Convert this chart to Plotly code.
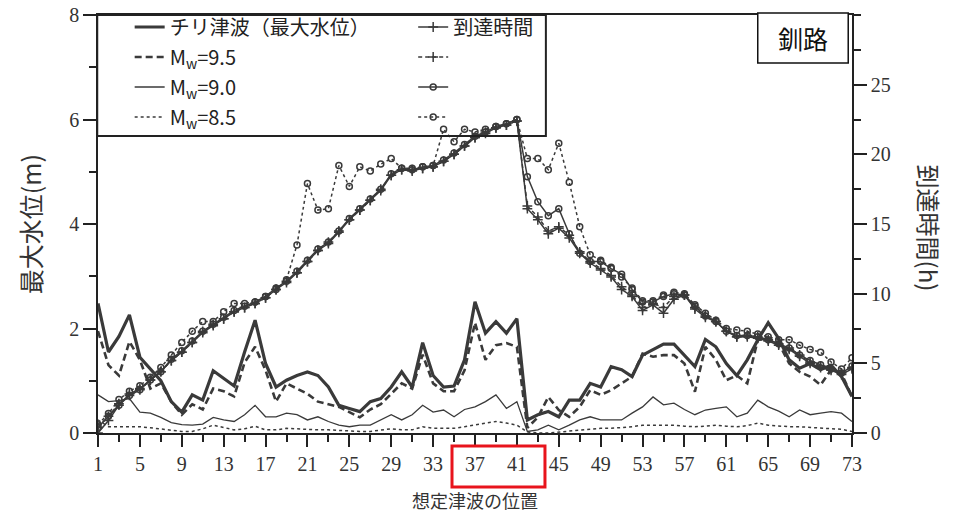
import plotly.graph_objects as go

positions = list(range(1, 74))

chile_h = [2.48,1.55,1.85,2.26,1.45,1.22,1.00,0.60,0.40,0.73,
           0.63,1.19,1.05,0.90,1.55,2.16,1.33,0.88,1.01,1.10,
           1.17,1.10,0.88,0.53,0.47,0.41,0.60,0.66,0.88,1.17,
           0.88,1.73,1.10,0.88,0.90,1.40,2.51,1.91,2.13,1.91,
           2.19,0.25,0.35,0.41,0.31,0.63,0.63,0.95,0.88,1.27,
           1.21,1.08,1.49,1.59,1.70,1.70,1.49,1.27,1.79,1.65,
           1.33,1.10,1.40,1.78,2.11,1.81,1.40,1.24,1.33,1.21,
           1.30,1.08,0.70]
m95_h = [1.95,1.30,1.10,1.75,1.40,0.85,0.95,0.60,0.35,0.55,
         0.45,0.85,0.80,0.70,1.35,1.65,1.20,0.60,0.95,0.85,
         0.75,0.60,0.55,0.50,0.40,0.30,0.45,0.55,0.75,0.95,
         0.85,1.50,0.95,0.80,0.80,1.20,2.11,1.40,1.68,1.72,
         1.65,0.10,0.30,0.69,0.44,0.31,0.50,0.82,0.73,0.82,
         0.95,1.08,1.52,1.46,1.49,1.49,1.33,0.79,1.65,1.40,
         1.01,1.10,0.95,1.78,1.81,1.72,1.33,1.17,1.08,0.92,
         1.21,1.14,0.69]
m90_h = [0.73,0.60,0.62,0.66,0.40,0.38,0.30,0.20,0.16,0.15,
         0.17,0.30,0.25,0.22,0.35,0.53,0.31,0.31,0.38,0.35,
         0.25,0.31,0.22,0.15,0.12,0.15,0.15,0.25,0.35,0.25,
         0.35,0.53,0.40,0.44,0.31,0.45,0.50,0.60,0.73,0.47,
         0.60,0.03,0.06,0.15,0.06,0.15,0.25,0.31,0.25,0.25,
         0.25,0.38,0.50,0.69,0.54,0.57,0.45,0.35,0.44,0.47,
         0.50,0.31,0.38,0.63,0.50,0.42,0.31,0.44,0.35,0.38,
         0.41,0.38,0.22]
m85_h = [0.25,0.12,0.12,0.12,0.12,0.10,0.08,0.05,0.03,0.03,
         0.08,0.15,0.10,0.06,0.08,0.13,0.06,0.06,0.09,0.08,
         0.06,0.06,0.06,0.05,0.03,0.03,0.03,0.05,0.08,0.06,
         0.06,0.12,0.09,0.09,0.09,0.12,0.15,0.19,0.22,0.19,
         0.15,0.02,0.00,0.00,0.02,0.04,0.06,0.08,0.09,0.09,
         0.10,0.12,0.15,0.15,0.15,0.15,0.13,0.12,0.13,0.15,
         0.13,0.12,0.14,0.19,0.15,0.13,0.12,0.12,0.11,0.10,
         0.09,0.07,0.03]

chile_t = [0.0,0.9,2.0,2.8,3.2,3.8,4.4,5.2,5.8,6.5,
           7.2,7.7,8.2,8.7,9.0,9.3,9.7,10.3,10.8,11.5,
           12.3,13.1,13.6,14.4,15.3,16.0,16.7,17.4,18.5,18.9,
           18.8,19.0,19.1,19.5,20.0,20.6,21.2,21.5,21.9,22.1,
           22.4,16.1,15.3,14.3,14.7,14.0,12.9,12.2,11.7,11.2,
           10.3,9.8,8.8,9.2,8.6,9.6,9.9,8.9,8.3,8.0,
           7.3,6.9,6.9,6.8,6.6,6.3,6.0,5.5,5.0,4.7,
           4.5,4.2,4.6]
m95_t = [0.4,1.2,2.1,2.7,3.1,3.8,4.4,5.2,5.8,6.5,
         7.3,7.8,8.2,8.7,9.0,9.3,9.7,10.3,10.9,11.5,
         12.3,13.1,13.7,14.5,15.3,16.0,16.7,17.5,18.5,18.9,
         18.9,19.0,19.1,19.5,20.0,20.6,21.2,21.6,21.9,22.1,
         22.4,16.3,15.5,14.5,14.8,14.2,13.0,12.3,11.8,11.3,
         10.5,9.9,9.0,9.3,9.0,9.8,9.9,9.0,8.4,8.0,
         7.3,6.9,7.0,6.9,6.7,6.4,6.1,5.6,5.1,4.8,
         4.6,4.3,4.7]
m90_t = [0.4,1.2,2.0,2.7,3.1,3.8,4.4,5.3,5.9,6.6,
         7.3,7.8,8.3,8.8,9.1,9.4,9.8,10.4,10.9,11.6,
         12.4,13.2,13.7,14.5,15.4,16.1,16.8,17.5,18.6,19.0,
         18.9,19.1,19.2,19.6,20.1,20.7,21.3,21.6,22.0,22.2,
         22.5,18.4,16.6,15.6,16.1,14.3,12.9,12.3,12.3,11.8,
         11.4,10.3,9.4,9.4,9.8,10.0,9.9,9.1,8.4,8.0,
         7.3,7.0,7.0,6.9,6.7,6.4,6.1,5.6,5.2,4.9,
         4.6,4.3,4.8]
m85_t = [0.6,1.4,2.4,3.0,3.4,4.0,4.7,5.6,6.5,7.3,
         8.0,8.0,8.7,9.3,9.3,9.4,9.8,10.3,11.0,13.5,
         17.9,16.0,16.1,19.2,17.7,19.1,18.8,19.3,19.7,19.0,
         19.0,19.1,19.2,21.8,20.9,21.8,21.6,21.8,22.0,22.2,
         22.5,19.7,19.7,18.9,20.8,18.0,14.8,12.8,12.4,11.9,
         11.2,10.4,9.5,9.5,9.9,10.1,10.0,9.2,8.6,8.1,
         7.5,7.4,7.3,7.1,6.9,6.7,6.7,6.3,6.0,5.8,
         5.1,4.6,5.4]

x_ticks = list(range(1, 74, 4))
y1_ticks = [0, 2, 4, 6, 8]
y2_ticks = [0, 5, 10, 15, 20, 25]

names_h = ["チリ津波（最大水位）", "M<sub>w</sub>=9.5", "M<sub>w</sub>=9.0", "M<sub>w</sub>=8.5"]
names_t = ["到達時間", " ", "  ", "   "]

C = "#3a3a3a"
JP = "Noto Sans CJK JP"
SERIF = "Liberation Serif"

fig = go.Figure()

h_series = [chile_h, m95_h, m90_h, m85_h]
h_styles = [dict(width=3.2, dash="solid"), dict(width=2.6, dash="7px,4px"),
            dict(width=1.3, dash="solid"), dict(width=1.5, dash="3px,3px")]
for i, (vals, st) in enumerate(zip(h_series, h_styles)):
    fig.add_trace(go.Scatter(x=positions, y=vals, mode="lines", name=names_h[i],
                             line=dict(color=C, **st), legend="legend",
                             legendgroup=f"h{i}", yaxis="y"))

t_series = [chile_t, m95_t, m90_t, m85_t]
t_styles = [dict(width=1.5, dash="solid"), dict(width=1.5, dash="4px,3px"),
            dict(width=1.5, dash="solid"), dict(width=1.5, dash="3px,3px")]
t_markers = [dict(symbol="cross-thin", size=7, line=dict(width=1.5, color=C), color=C),
             dict(symbol="cross-thin", size=7, line=dict(width=1.5, color=C), color=C),
             dict(symbol="circle-open", size=6, line=dict(width=1.5, color=C), color=C),
             dict(symbol="circle-open", size=6, line=dict(width=1.5, color=C), color=C)]
for i, (vals, st, mk) in enumerate(zip(t_series, t_styles, t_markers)):
    fig.add_trace(go.Scatter(x=positions, y=vals, mode="lines+markers", name=names_t[i],
                             line=dict(color=C, **st), marker=mk, legend="legend2",
                             legendgroup=f"t{i}", yaxis="y2"))

axis_font = dict(family=SERIF, size=20, color="#333")

fig.update_layout(
    width=947, height=516,
    margin=dict(l=90, r=103, t=7, b=91, autoexpand=False),
    paper_bgcolor="white", plot_bgcolor="white",
    showlegend=True,
    xaxis=dict(range=[1, 73], tickmode="array", tickvals=x_ticks, ticks="outside",
               ticklen=12, tickwidth=1.5, tickcolor="#222", showline=True, linecolor="#222",
               linewidth=1.5, mirror=True, showgrid=False, zeroline=False, automargin=False,
               tickfont=axis_font, ticklabeloverflow="allow",
               minor=dict(tickmode="linear", tick0=1, dtick=2, ticks="outside", ticklen=7,
                          tickwidth=1.5, tickcolor="#222", showgrid=False)),
    yaxis=dict(range=[0, 8], tickmode="array", tickvals=y1_ticks, ticks="outside",
               ticklen=13, tickwidth=1.5, tickcolor="#222", showline=True, linecolor="#222",
               linewidth=1.5, showgrid=False, zeroline=False, automargin=False, tickfont=axis_font,
               ticklabeloverflow="allow",
               minor=dict(tickmode="linear", tick0=0, dtick=1, ticks="outside", ticklen=7,
                          tickwidth=1.5, tickcolor="#222", showgrid=False)),
    yaxis2=dict(range=[0, 30], overlaying="y", side="right", tickmode="array",
                tickvals=y2_ticks, ticks="outside", ticklen=13, tickwidth=1.5, tickcolor="#222",
                showline=True, linecolor="#222", linewidth=1.5, showgrid=False, zeroline=False,
                automargin=False, tickfont=axis_font, ticklabeloverflow="allow",
                minor=dict(tickmode="linear", tick0=0, dtick=2.5, ticks="outside", ticklen=7,
                           tickwidth=1.5, tickcolor="#222", showgrid=False)),
    legend=dict(x=0.042, y=1.018, xanchor="left", yanchor="top", bgcolor="rgba(0,0,0,0)",
                borderwidth=0, font=dict(family=JP, size=20, color="#222"),
                tracegroupgap=1, itemwidth=30),
    legend2=dict(x=0.418, y=1.018, xanchor="left", yanchor="top", bgcolor="rgba(0,0,0,0)",
                 borderwidth=0, font=dict(family=JP, size=20, color="#222"),
                 tracegroupgap=1, itemwidth=30),
    shapes=[
        dict(type="rect", xref="paper", yref="paper", x0=-0.001, x1=0.594, y0=0.7105, y1=1.0,
             line=dict(color="#222", width=2), fillcolor="rgba(0,0,0,0)", layer="above"),
        dict(type="rect", xref="paper", yref="paper", x0=0.875, x1=0.995, y0=0.885, y1=1.005,
             line=dict(color="#111", width=1.5), fillcolor="white", layer="above"),
        dict(type="rect", xref="paper", yref="paper", x0=0.4695, x1=0.5928, y0=-0.129, y1=-0.031,
             line=dict(color="#e8141c", width=3), fillcolor="rgba(0,0,0,0)", layer="above"),
    ],
    annotations=[
        dict(text="釧路", xref="paper", yref="paper", x=0.935, y=0.945, showarrow=False,
             font=dict(family=JP, size=25, color="#111"), xanchor="center", yanchor="middle"),
        dict(text="最大水位(m)", xref="paper", yref="paper", x=-0.09, y=0.5, showarrow=False,
             textangle=-90, font=dict(family=JP, size=25, color="#333"),
             xanchor="center", yanchor="middle"),
        dict(text="到達時間(h)", xref="paper", yref="paper", x=1.103, y=0.49, showarrow=False,
             textangle=90, font=dict(family=JP, size=24, color="#333"),
             xanchor="center", yanchor="middle"),
        dict(text="想定津波の位置", xref="paper", yref="paper", x=0.5, y=-0.16, showarrow=False,
             font=dict(family=JP, size=18, color="#333"), xanchor="center", yanchor="middle"),
    ],
)

fig.write_html("out.html")
